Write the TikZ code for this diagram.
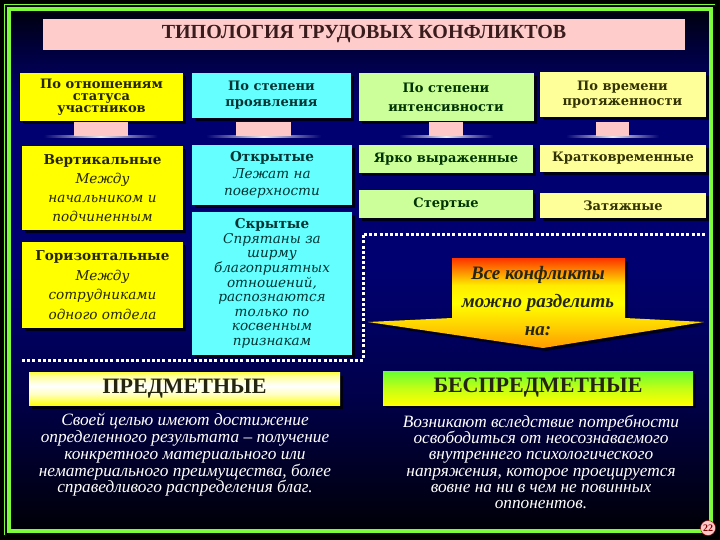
\documentclass[tikz,border=0pt]{standalone}
\usepackage{fontspec}
\setmainfont{Liberation Serif}
\newfontfamily\boxfont{DejaVu Serif}
\usetikzlibrary{shadows,calc}

\definecolor{frameGreen}{HTML}{7CFC3C}
\definecolor{bgTop}{HTML}{00000C}
\definecolor{bgNavy}{HTML}{000070}
\definecolor{bgLow}{HTML}{00004A}
\definecolor{bgDark}{HTML}{000006}
\definecolor{titlePink}{HTML}{FFCCCC}
\definecolor{titleInk}{HTML}{3A1C1C}
\definecolor{statusFill}{HTML}{FFFF00}
\definecolor{levelFill}{HTML}{66FFFF}
\definecolor{intensFill}{HTML}{CCFF99}
\definecolor{timeFill}{HTML}{FFFF99}
\definecolor{statusInk}{HTML}{262600}
\definecolor{levelInk}{HTML}{003333}
\definecolor{intensInk}{HTML}{003300}
\definecolor{timeInk}{HTML}{333300}
\definecolor{pedPink}{HTML}{FFC8C8}
\definecolor{arrowRed}{HTML}{FF3300}
\definecolor{arrowOrange}{HTML}{FF9900}
\definecolor{arrowAmber}{HTML}{FFCC00}
\definecolor{kindGreen}{HTML}{66FF33}
\definecolor{kindInk}{HTML}{262610}

\pgfdeclareverticalshading{slideBack}{100bp}{color(0bp)=(bgDark); color(25bp)=(bgDark); color(38bp)=(bgLow); color(50bp)=(bgNavy); color(66bp)=(bgNavy); color(71bp)=(bgTop!50!bgNavy); color(75bp)=(bgTop); color(100bp)=(bgTop)}
\pgfdeclareverticalshading{arrowShade}{100bp}{color(0bp)=(arrowOrange); color(25bp)=(arrowOrange); color(36bp)=(arrowAmber); color(50bp)=(yellow); color(60bp)=(yellow!90!arrowRed); color(75bp)=(arrowRed); color(100bp)=(arrowRed)}
\pgfdeclareverticalshading{predShade}{100bp}{color(0bp)=(yellow); color(25bp)=(yellow); color(42bp)=(yellow!25); color(55bp)=(white); color(70bp)=(yellow!40); color(75bp)=(yellow!70); color(100bp)=(yellow!70)}
\pgfdeclareverticalshading{bespredShade}{100bp}{color(0bp)=(yellow); color(25bp)=(yellow); color(50bp)=(yellow!60!kindGreen); color(75bp)=(kindGreen); color(100bp)=(kindGreen)}
\pgfdeclarehorizontalshading{baseGlow}{100bp}{color(0bp)=(bgNavy); color(25bp)=(bgNavy); color(50bp)=(white!85!gray); color(75bp)=(bgNavy); color(100bp)=(bgNavy)}

\tikzset{
  card/.style={fill=#1, align=center, inner sep=2pt,
    drop shadow={shadow xshift=3pt, shadow yshift=-3pt, fill=black, opacity=0.8}},
  headtext/.style={font=\boxfont\bfseries\fontsize{13}{#1}\selectfont},
  celltext/.style={font=\boxfont\fontsize{13.6}{#1}\selectfont},
  kind/.style={shade, shading=#1, minimum width=311pt, minimum height=33pt, text=kindInk,
    font=\bfseries\fontsize{22}{22}\selectfont,
    drop shadow={shadow xshift=3pt, shadow yshift=-3pt, fill=black, opacity=0.8}},
  note/.style={text=white, align=center, inner sep=0pt, font=\itshape\fontsize{17.3}{#1}\selectfont},
  dotTrail/.style={white, line width=3pt, dash pattern=on 3pt off 2.2pt}
}

\begin{document}
\begin{tikzpicture}[x=1pt,y=-1pt]
  \useasboundingbox (0,0) rectangle (720,540);

  % Slide background and green frame
  \fill[black] (0,0) rectangle (720,540);
  \shade[shading=slideBack] (9,9) rectangle (711,531);
  \draw[frameGreen, line width=4pt] (9,9) rectangle (711,531);
  \draw[frameGreen, line width=0.8pt] (4.5,535) -- (4.5,4.5) -- (715,4.5);

  % Title
  \node[fill=titlePink, minimum width=642pt, minimum height=31pt, text=titleInk,
        font=\bfseries\fontsize{20}{20}\selectfont] (title) at (364,34.5) {ТИПОЛОГИЯ ТРУДОВЫХ КОНФЛИКТОВ};

  % Column headers
  \node[card=statusFill, text=statusInk, headtext=12, minimum width=163pt, minimum height=48pt] (hStatus) at (101.5,97) {По отношениям\\статуса\\участников};
  \node[card=levelFill, text=levelInk, headtext=16, minimum width=159pt, minimum height=45pt] (hLevel) at (271.5,95.5) {По степени\\проявления};
  \node[card=intensFill, text=intensInk, headtext=19, minimum width=175pt, minimum height=48pt] (hIntens) at (446,97.5) {По степени\\интенсивности};
  \node[card=timeFill, text=timeInk, headtext=15, minimum width=166pt, minimum height=45pt] (hTime) at (622.5,95) {По времени\\протяженности};

  % Types in each column
  \node[card=statusFill, text=statusInk, celltext=19, minimum width=161pt, minimum height=84pt] (rVert) at (102.5,188)
    {\textbf{Вертикальные}\\\textit{Между}\\\textit{начальником и}\\\textit{подчиненным}};
  \node[card=statusFill, text=statusInk, celltext=19.5, minimum width=161pt, minimum height=86pt] (rHoriz) at (102.5,285)
    {\textbf{Горизонтальные}\\\textit{Между}\\\textit{сотрудниками}\\\textit{одного отдела}};
  \node[card=levelFill, text=levelInk, celltext=17, minimum width=160pt, minimum height=60pt] (rOpen) at (272,175)
    {\textbf{Открытые}\\\textit{Лежат на}\\\textit{поверхности}};
  \node[card=levelFill, text=levelInk, celltext=14.6, minimum width=160pt, minimum height=143pt] (rHidden) at (272,283.5)
    {\textbf{Скрытые}\\\textit{Спрятаны за}\\\textit{ширму}\\\textit{благоприятных}\\\textit{отношений,}\\\textit{распознаются}\\\textit{только по}\\\textit{косвенным}\\\textit{признакам}};
  \node[card=intensFill, text=intensInk, headtext=15, minimum width=174pt, minimum height=28pt] (rBright) at (446,159) {Ярко выраженные};
  \node[card=intensFill, text=intensInk, headtext=15, minimum width=174pt, minimum height=28pt] (rFaded) at (446,204) {Стертые};
  \node[card=timeFill, text=timeInk, headtext=15, minimum width=166pt, minimum height=27pt] (rShort) at (623,158.5) {Кратковременные};
  \node[card=timeFill, text=timeInk, headtext=15, minimum width=166pt, minimum height=25pt] (rLong) at (623,205.5) {Затяжные};

  % Pink pedestals under the headers
  \coordinate (pedTop) at (0,122);
  \coordinate (pedBot) at (0,136);
  \foreach \hd/\dx/\pw in {hStatus/-1/54, hLevel/-8/55, hIntens/0/34, hTime/-10/33} {
    \shade[shading=baseGlow] ($(\hd.south |- pedBot)+(\dx-\pw/2-30,-0.8)$) rectangle ($(\hd.south |- pedBot)+(\dx+\pw/2+30,1.2)$);
    \fill[pedPink] ($(\hd.south |- pedTop)+(\dx-\pw/2,0)$) rectangle ($(\hd.south |- pedBot)+(\dx+\pw/2,0)$);
  }

  % Dotted frame round the arrow
  \draw[dotTrail] (22,360) -- (363,360) -- (363,234) -- (705,234);

  % Big arrow
  \shade[shading=arrowShade, drop shadow={shadow xshift=3pt, shadow yshift=-3pt, fill=black, opacity=0.7}]
    (452,258) -- (625,258) -- (625,318) -- (704,322) -- (543,348) -- (368,322) -- (452,318) -- cycle;
  \node[text=kindInk, align=center, font=\bfseries\itshape\fontsize{19}{28}\selectfont] (split) at (538,301) {Все конфликты\\можно разделить\\на:};

  % Two kinds of conflicts
  \node[kind=predShade] (kSubj) at (184.5,389) {ПРЕДМЕТНЫЕ};
  \node[kind=bespredShade, minimum width=310pt, minimum height=34pt] (kNonSubj) at (538,388) {БЕСПРЕДМЕТНЫЕ};

  \node[note=16.8] (nSubj) at (185,455) {Своей целью имеют достижение\\определенного результата – получение\\конкретного материального или\\нематериального преимущества, более\\справедливого распределения благ.};
  \node[note=16.2] (nNonSubj) at (541,462) {Возникают вследствие потребности\\освободиться от неосознаваемого\\внутреннего психологического\\напряжения, которое проецируется\\вовне на ни в чем не повинных\\оппонентов.};

  % Slide number
  \node[circle, fill=pedPink, draw=red!60!black, inner sep=0.5pt, minimum size=15pt, text=red!50!black,
        font=\bfseries\fontsize{10}{10}\selectfont] (pageNo) at (708,528) {22};
\end{tikzpicture}
\end{document}
